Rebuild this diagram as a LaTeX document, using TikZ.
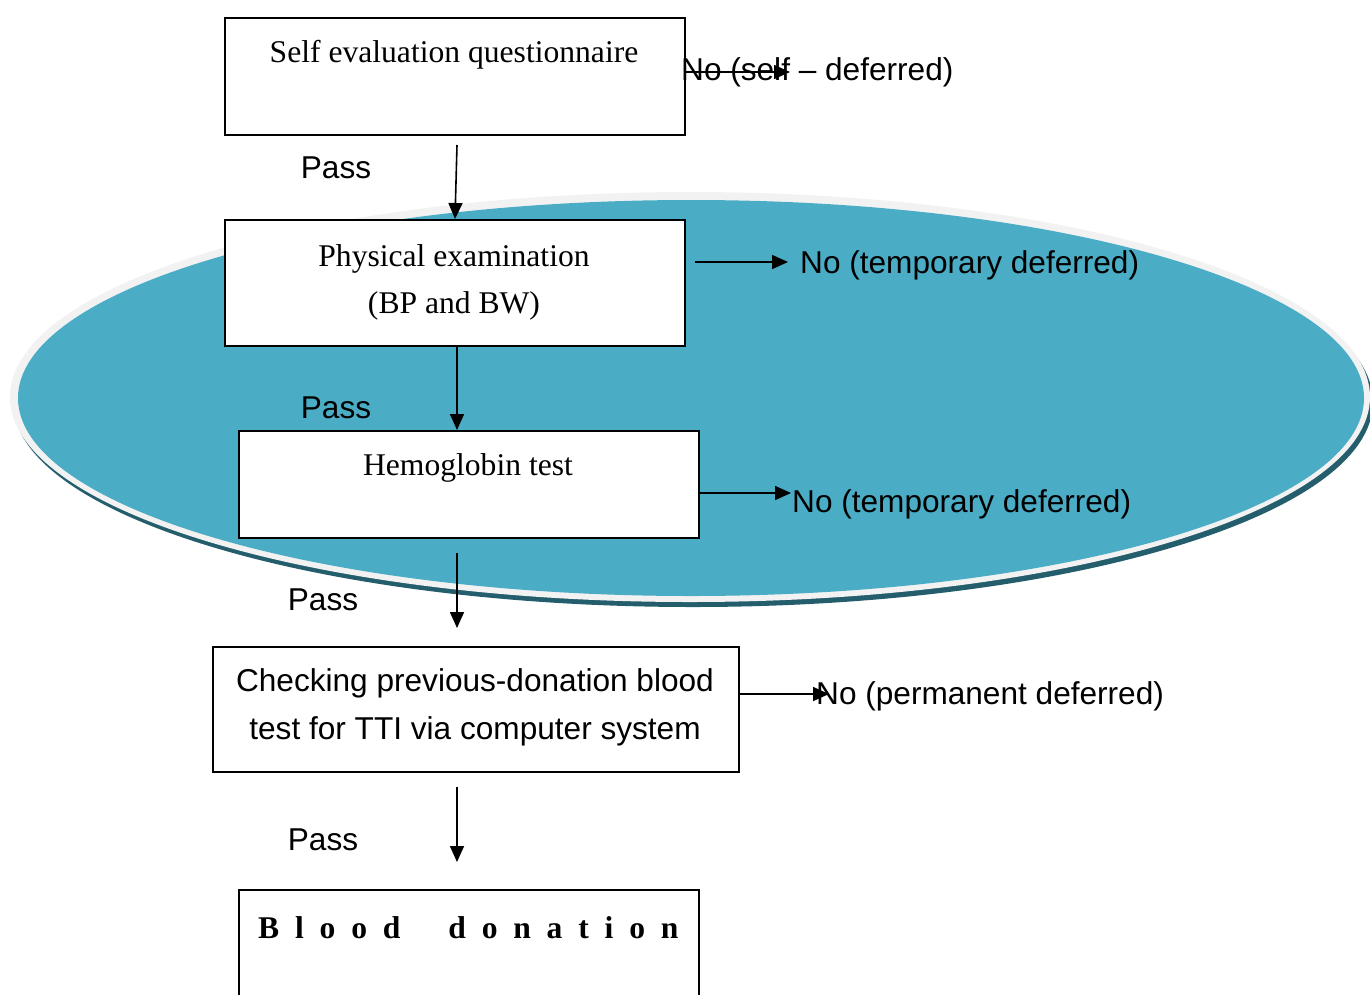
\documentclass[tikz,border=0pt]{standalone}
\usepackage{fontspec}
\setmainfont{Liberation Serif}
\newfontfamily\arialfont{Liberation Sans}
\usetikzlibrary{arrows.meta}
\definecolor{ovalfill}{HTML}{4BACC6}
\definecolor{ovalrim}{HTML}{F2F2F2}
\definecolor{ovalshade}{HTML}{245E6C}
\begin{document}
\begin{tikzpicture}[x=1pt,y=-1pt,
  box/.style={draw,fill=white,line width=1.6pt,inner sep=0pt,anchor=north west},
  serif/.style={font=\fontsize{31.6}{47}\selectfont,inner sep=0pt},
  sans/.style={font=\arialfont\fontsize{31.6}{48}\selectfont,inner sep=0pt},
  arr/.style={line width=1.6pt,-{Triangle[length=16pt,width=14pt]}}]
\useasboundingbox (0,0) rectangle (1370,994);

% screening oval with rim and drop shade
\fill[ovalshade] (693,402) ellipse [x radius=680, y radius=205];
\fill[ovalrim] (690,397) ellipse [x radius=680, y radius=205];
\fill[ovalfill] (691,398) ellipse [x radius=673, y radius=198];

% step boxes
\node[box, minimum width=460, minimum height=117] (b1) at (224,17) {};
\node[box, minimum width=460, minimum height=126] (b2) at (224,219) {};
\node[box, minimum width=460, minimum height=107] (b3) at (238,430) {};
\node[box, minimum width=526, minimum height=125] (b4) at (212,646) {};
\node[box, minimum width=460, minimum height=120] (b5) at (238,889) {};

% box texts
\node[serif] (t1) at (454,55) {Self evaluation questionnaire};
\node[serif, align=center] (t2) at (454,282) {Physical examination\\(BP and BW)};
\node[serif] (t3) at (468,468) {Hemoglobin test};
\node[sans, align=center] (t4) at (475,707) {Checking previous-donation blood\\test for TTI via computer system};
\node[font=\fontsize{31.6}{40}\selectfont\bfseries\addfontfeature{LetterSpace=50},
      anchor=west, inner sep=0pt] (t5) at (258,928) {Blood\hspace{48pt}donation};

% outcome labels
\node[sans, anchor=west] (n1) at (681,72) {No (self – deferred)};
\node[sans, anchor=west] (n2) at (800,265) {No (temporary deferred)};
\node[sans, anchor=west] (n3) at (792,504) {No (temporary deferred)};
\node[sans, anchor=west] (n4) at (816,696) {No (permanent deferred)};

\node[sans] (p1) at (336,168) {Pass};
\node[sans] (p2) at (336,408) {Pass};
\node[sans] (p3) at (323,600) {Pass};
\node[sans] (p4) at (323,840) {Pass};

% arrow ends
\coordinate (e1) at (790,72);
\coordinate (s2) at (695,262);
\coordinate (e2) at (788,262);
\coordinate (e3) at (791,493);
\coordinate (e4) at (829,694);
\coordinate (v1s) at (457,145);
\coordinate (v1e) at (455,219);
\coordinate (v2) at (457,345);
\coordinate (v3s) at (457,553);
\coordinate (v3e) at (457,628);
\coordinate (v4s) at (457,787);
\coordinate (v4e) at (457,862);

% connectors
\draw[arr] (b1.east |- e1) -- (e1);
\draw[arr] (s2) -- (e2);
\draw[arr] (b3.east |- e3) -- (e3);
\draw[arr] (b4.east |- e4) -- (e4);
\draw[arr] (v1s) -- (v1e);
\draw[arr] (v2) -- (v2 |- b3.north);
\draw[arr] (v3s) -- (v3e);
\draw[arr] (v4s) -- (v4e);
\end{tikzpicture}
\end{document}
